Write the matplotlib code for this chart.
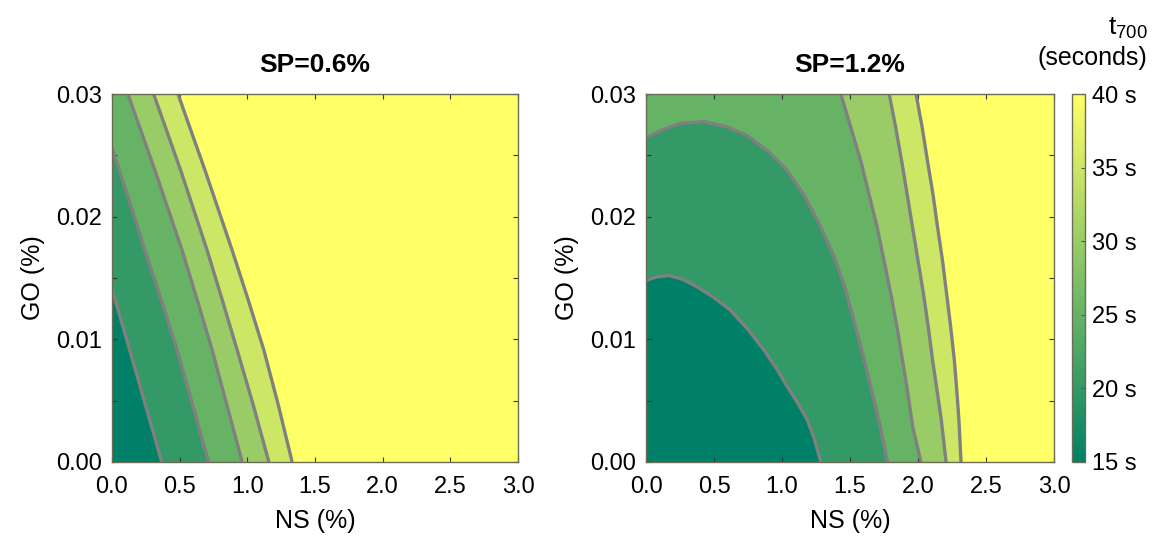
""" Two contour panels of t700 over NS and GO content, one per SP level"""
import numpy as np
import matplotlib
matplotlib.use('Agg')
import matplotlib.pyplot as plt
from matplotlib.colors import Normalize
from matplotlib.cm import ScalarMappable

plt.rcParams['font.family'] = ['Liberation Sans', 'DejaVu Sans']
plt.rcParams['mathtext.default'] = 'regular'

# contour levels (seconds) and band colours from low to high
LEVELS = [20, 25, 30, 35, 40]
BAND_COLORS = ['#008066', '#339966', '#66b366', '#99cc66', '#cce666', '#ffff66']

# contour lines, (NS %, GO %) from top/left end to bottom
SP06_LINES = {
    20: [(0.0, 0.01415), (0.184, 0.0071), (0.368, 0.0)],
    25: [(0.0, 0.0256), (0.125, 0.0214), (0.244, 0.01726), (0.365, 0.0132),
         (0.481, 0.00913), (0.60, 0.0045), (0.713, 0.0)],
    30: [(0.118, 0.03), (0.32, 0.0237), (0.518, 0.01726), (0.63, 0.0132),
         (0.74, 0.00913), (0.85, 0.0046), (0.962, 0.0)],
    35: [(0.308, 0.03), (0.51, 0.0237), (0.703, 0.01726), (0.815, 0.0132),
         (0.925, 0.00913), (1.045, 0.0046), (1.159, 0.0)],
    40: [(0.488, 0.03), (0.69, 0.0237), (0.888, 0.01726), (1.007, 0.0132),
         (1.122, 0.00913), (1.23, 0.0046), (1.331, 0.0)],
}
SP12_LINES = {
    20: [(0.0, 0.0148), (0.08, 0.0151), (0.167, 0.0152), (0.27, 0.0149),
         (0.376, 0.01428), (0.50, 0.0134), (0.621, 0.01238), (0.75, 0.0108),
         (0.867, 0.00913), (0.96, 0.0076), (1.039, 0.00615), (1.12, 0.0047),
         (1.186, 0.00344), (1.24, 0.0018), (1.285, 0.0)],
    25: [(0.0, 0.02642), (0.1, 0.0270), (0.25, 0.0276), (0.425, 0.02775),
         (0.6, 0.0273), (0.744, 0.02661), (0.9, 0.0253), (1.039, 0.02376),
         (1.17, 0.0216), (1.285, 0.01915), (1.38, 0.0168), (1.46, 0.0143),
         (1.53, 0.0115), (1.60, 0.0085), (1.66, 0.0058), (1.72, 0.0030),
         (1.775, 0.0)],
    30: [(1.432, 0.03), (1.505, 0.0273), (1.579, 0.02453), (1.64, 0.0218),
         (1.70, 0.0191), (1.75, 0.0164), (1.80, 0.0137), (1.845, 0.0110),
         (1.886, 0.00828), (1.925, 0.0056), (1.96, 0.0029), (2.021, 0.0)],
    35: [(1.788, 0.03), (1.835, 0.0273), (1.88, 0.0245), (1.92, 0.0218),
         (1.96, 0.0191), (2.00, 0.0164), (2.04, 0.0137), (2.075, 0.0110),
         (2.107, 0.00828), (2.14, 0.0058), (2.17, 0.0035), (2.206, 0.0)],
    40: [(1.985, 0.03), (2.03, 0.0273), (2.07, 0.0245), (2.11, 0.0218),
         (2.144, 0.0191), (2.18, 0.0164), (2.21, 0.0137), (2.24, 0.0110),
         (2.267, 0.00828), (2.285, 0.0058), (2.30, 0.0035), (2.316, 0.0)],
}
PANELS = [('SP=0.6%', SP06_LINES), ('SP=1.2%', SP12_LINES)]

XTICKS = [0.0, 0.5, 1.0, 1.5, 2.0, 2.5, 3.0]
YTICKS = [0.00, 0.01, 0.02, 0.03]
YMINOR = [0.005, 0.015, 0.025]
CBAR_TICKS = [15, 20, 25, 30, 35, 40]

EDGE = '#6b6b58'


def draw_panel(ax, title, lines):
    ax.set_facecolor(BAND_COLORS[-1])
    # fill "t < level" regions from the highest level down
    for i in range(len(LEVELS) - 1, -1, -1):
        pts = lines[LEVELS[i]]
        xs = [p[0] for p in pts] + [0.0, 0.0]
        ys = [p[1] for p in pts] + [0.0, pts[0][1]]
        ax.fill(xs, ys, color=BAND_COLORS[i], lw=0)
    for lv in LEVELS:
        pts = lines[lv]
        ax.plot([p[0] for p in pts], [p[1] for p in pts], color='#808080',
                lw=2.4, solid_capstyle='butt', solid_joinstyle='round')
    ax.set_xlim(0, 3)
    ax.set_ylim(0, 0.03)
    ax.set_xticks(XTICKS)
    ax.set_xticklabels(['%.1f' % v for v in XTICKS])
    ax.set_yticks(YTICKS)
    ax.set_yticklabels(['%.2f' % v for v in YTICKS])
    ax.set_yticks(YMINOR, minor=True)
    ax.tick_params(which='both', direction='in', top=True, right=True,
                   length=3.5, width=0.8, color='#333333', labelsize=17, pad=7)
    ax.tick_params(axis='x', pad=10)
    for sp in ax.spines.values():
        sp.set_color(EDGE)
        sp.set_linewidth(1.0)
    ax.set_title(title, fontsize=19, fontweight='bold', pad=16)
    ax.set_xlabel('NS (%)', fontsize=18, labelpad=8)
    ax.set_ylabel('GO (%)', fontsize=18, labelpad=8)


def main():
    fig = plt.figure(figsize=(11.53, 5.39), dpi=100)
    ax1 = fig.add_axes([0.0971, 0.1429, 0.3522, 0.6827])
    ax2 = fig.add_axes([0.5603, 0.1429, 0.3539, 0.6827])
    for ax, (title, lines) in zip([ax1, ax2], PANELS):
        draw_panel(ax, title, lines)

    cax = fig.add_axes([0.9297, 0.1429, 0.0113, 0.6827])
    sm = ScalarMappable(norm=Normalize(15, 40), cmap='summer')
    cb = fig.colorbar(sm, cax=cax, ticks=CBAR_TICKS)
    cb.set_ticklabels(['%d s' % v for v in CBAR_TICKS])
    cb.ax.tick_params(direction='in', length=3, width=0.8, color='#555555',
                      labelsize=17, pad=5)
    cb.outline.set_edgecolor(EDGE)
    cb.outline.set_linewidth(1.0)

    fig.text(0.995, 0.948, r'$t_{700}$', ha='right', va='center', fontsize=19)
    fig.text(0.995, 0.892, '(seconds)', ha='right', va='center', fontsize=18)

    fig.savefig('out.png', dpi=100)


if __name__ == "__main__":
    main()
